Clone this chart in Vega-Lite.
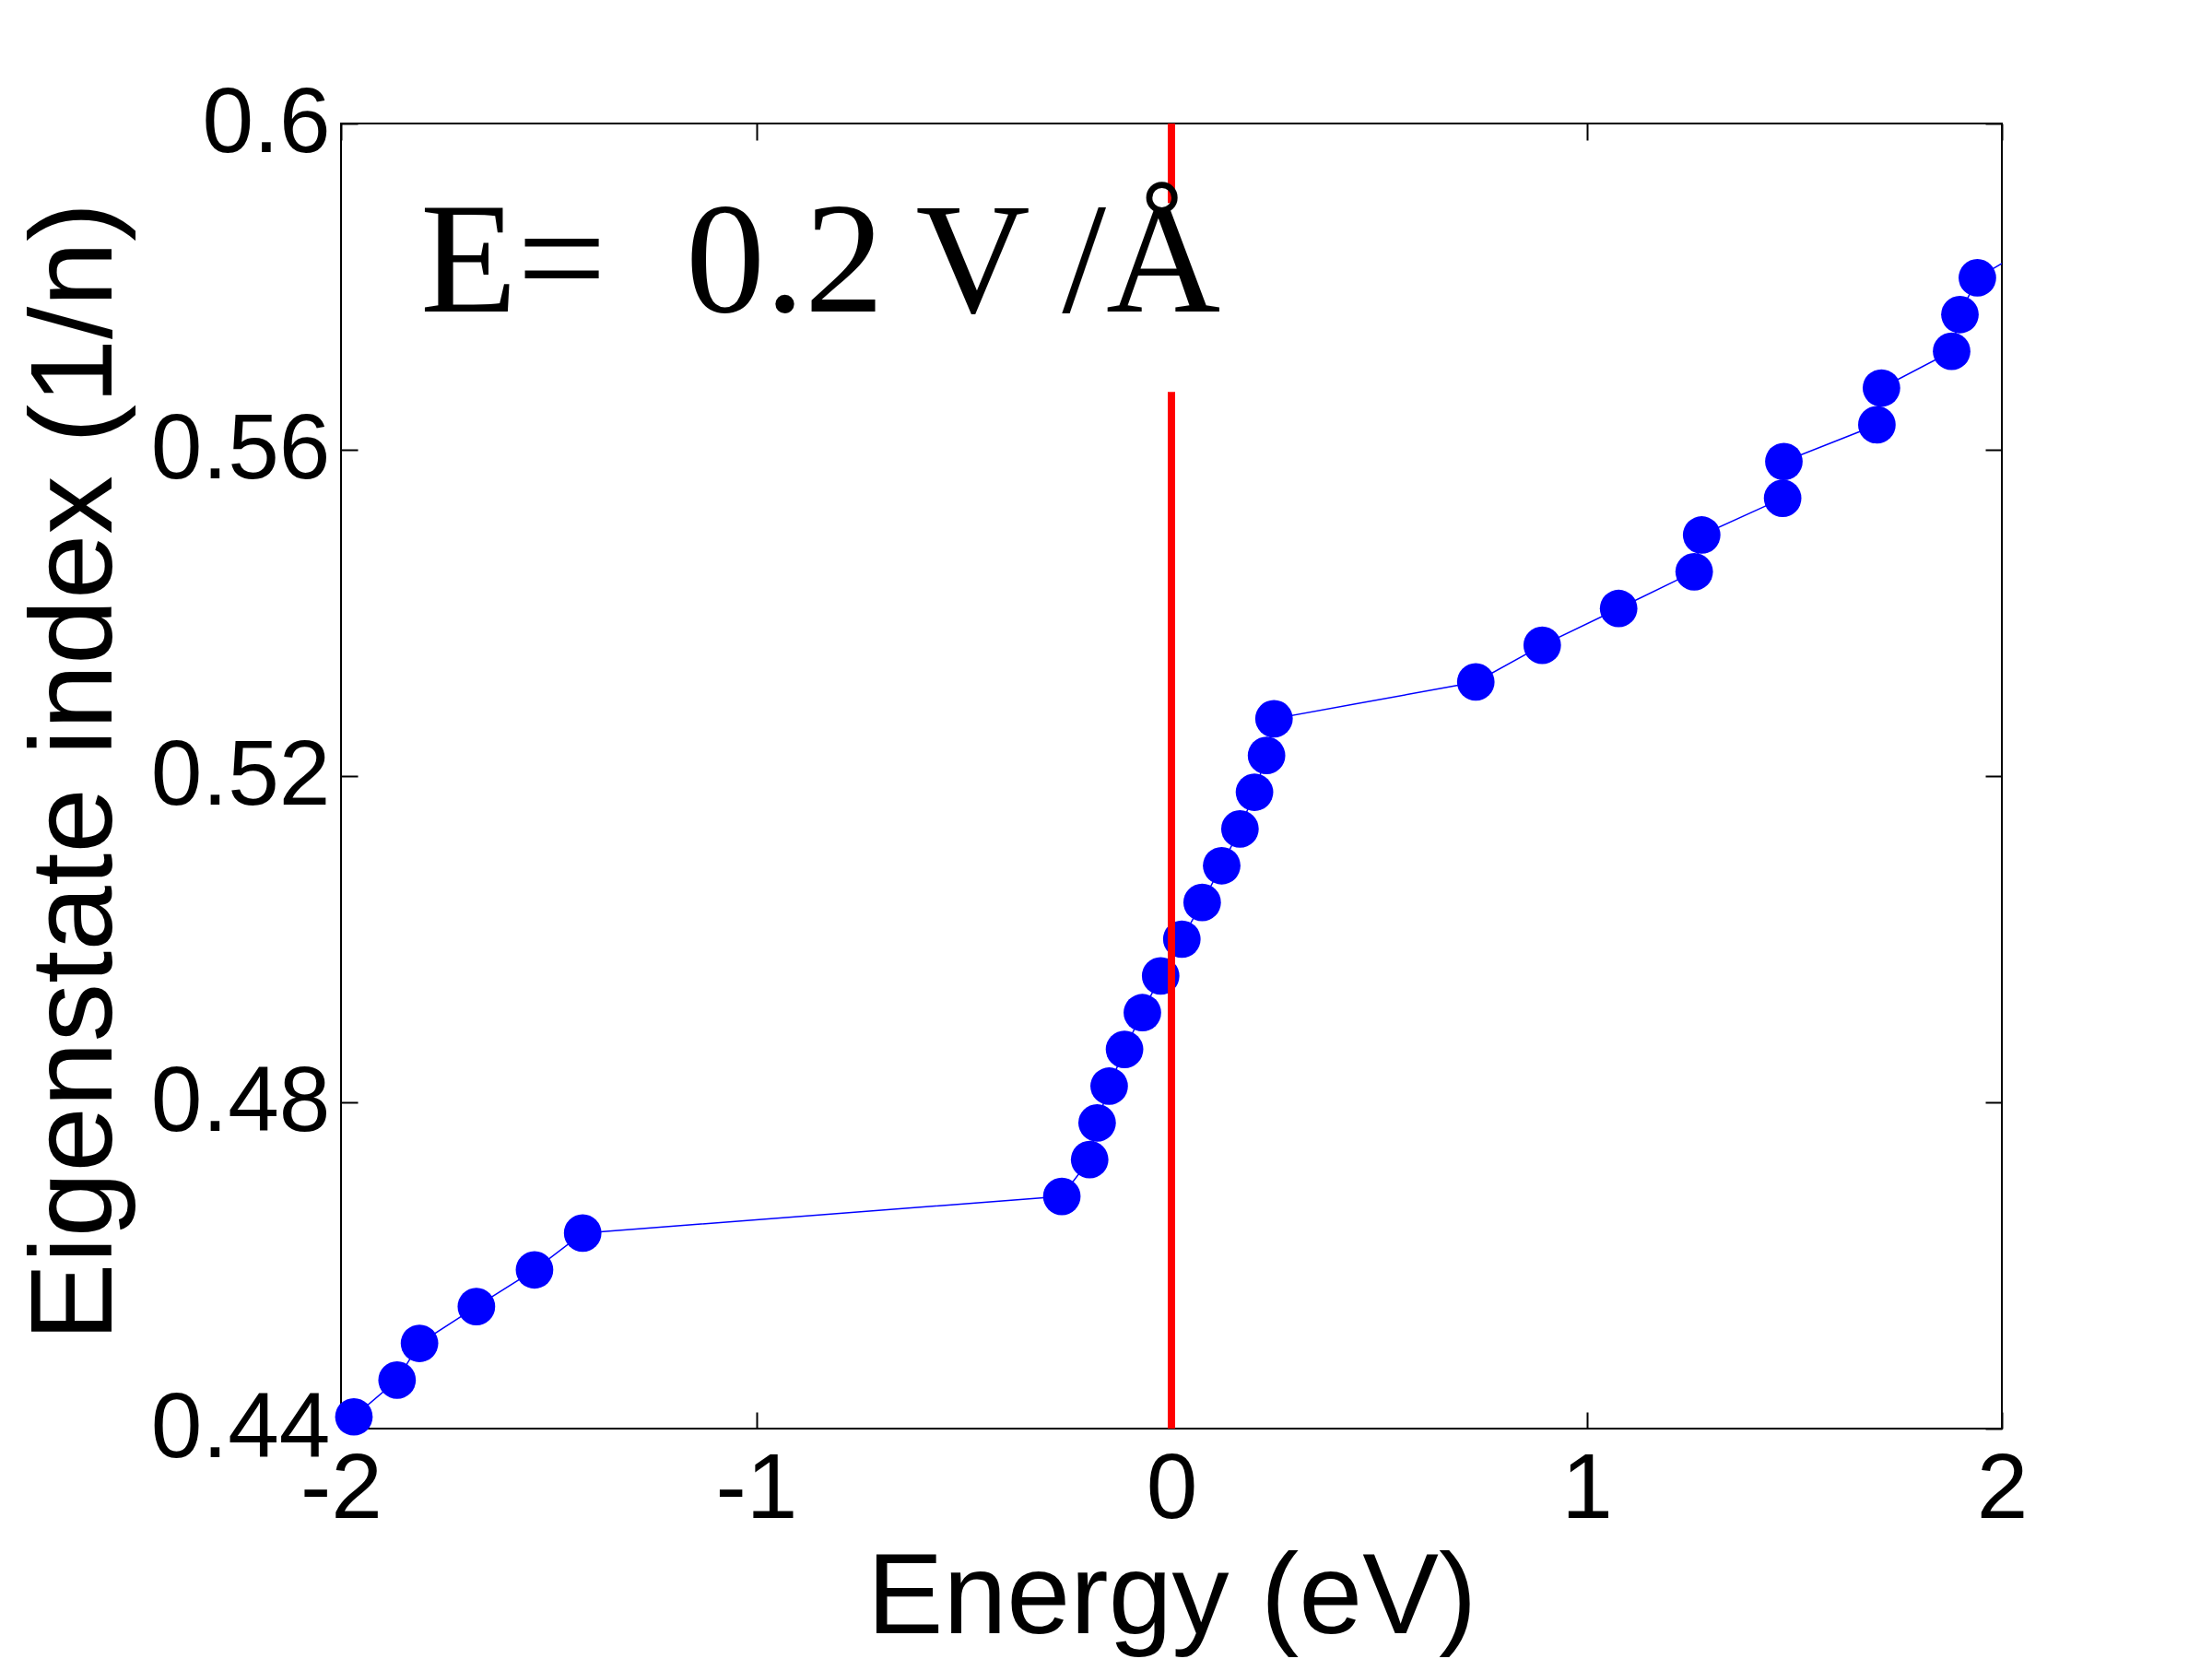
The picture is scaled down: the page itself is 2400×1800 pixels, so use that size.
{
  "$schema": "https://vega.github.io/schema/vega-lite/v6.json",
  "width": 1802,
  "height": 1416,
  "autosize": {"type": "none"},
  "padding": {"left": 370, "top": 134, "right": 228, "bottom": 250},
  "background": "white",
  "config": {
    "view": {"stroke": "black", "strokeWidth": 2},
    "axis": {
      "domain": false,
      "grid": false,
      "tickColor": "black",
      "tickWidth": 2,
      "tickSize": -18,
      "labelFont": "Liberation Sans",
      "labelFontSize": 100,
      "labelColor": "black",
      "labelLimit": 0,
      "titleFont": "Liberation Sans",
      "titleFontSize": 124,
      "titleFontWeight": "normal",
      "titleColor": "black"
    }
  },
  "datasets": {
    "states": [
      {"E": -2.05, "idx": 0.436937},
      {"E": -1.969, "idx": 0.441441},
      {"E": -1.865, "idx": 0.445946},
      {"E": -1.811, "idx": 0.450450},
      {"E": -1.674, "idx": 0.454955},
      {"E": -1.534, "idx": 0.459459},
      {"E": -1.418, "idx": 0.463964},
      {"E": -0.264, "idx": 0.468468},
      {"E": -0.197, "idx": 0.472973},
      {"E": -0.179, "idx": 0.477477},
      {"E": -0.150, "idx": 0.481982},
      {"E": -0.113, "idx": 0.486486},
      {"E": -0.070, "idx": 0.490991},
      {"E": -0.026, "idx": 0.495495},
      {"E": 0.025, "idx": 0.500000},
      {"E": 0.074, "idx": 0.504505},
      {"E": 0.121, "idx": 0.509009},
      {"E": 0.165, "idx": 0.513514},
      {"E": 0.200, "idx": 0.518018},
      {"E": 0.229, "idx": 0.522523},
      {"E": 0.247, "idx": 0.527027},
      {"E": 0.733, "idx": 0.531532},
      {"E": 0.893, "idx": 0.536036},
      {"E": 1.077, "idx": 0.540541},
      {"E": 1.259, "idx": 0.545045},
      {"E": 1.277, "idx": 0.549550},
      {"E": 1.472, "idx": 0.554054},
      {"E": 1.475, "idx": 0.558559},
      {"E": 1.699, "idx": 0.563063},
      {"E": 1.710, "idx": 0.567568},
      {"E": 1.879, "idx": 0.572072},
      {"E": 1.899, "idx": 0.576577},
      {"E": 1.941, "idx": 0.581081},
      {"E": 2.092, "idx": 0.585586}
    ],
    "fermi": [
      {"E": 0, "y1": 0.6, "y2": 0.59024},
      {"E": 0, "y1": 0.56708, "y2": 0.44}
    ],
    "label": [
      {"E": -1.809, "idx": 0.5769, "text": "E=\u00a0\u00a00.2\u2009V\u2009/Å"}
    ]
  },
  "layer": [
    {
      "data": {"name": "states"},
      "mark": {"type": "line", "color": "#0000FF", "strokeWidth": 1.5, "clip": true},
      "encoding": {
        "x": {
          "field": "E", "type": "quantitative",
          "scale": {"domain": [-2, 2], "nice": false, "zero": false},
          "axis": {"orient": "bottom", "values": [-2, -1, 0, 1, 2], "labelExpr": "'' + datum.value", "labelPadding": 35, "labelFlush": false, "labelOverlap": false, "title": "Energy (eV)", "titleBaseline": "alphabetic", "titleY": 221, "titleX": 901, "titleAnchor": "middle"}
        },
        "y": {
          "field": "idx", "type": "quantitative",
          "scale": {"domain": [0.44, 0.6], "nice": false, "zero": false},
          "axis": {"orient": "left", "values": [0.44, 0.48, 0.52, 0.56, 0.6], "format": ".2~f", "labelPadding": 30, "labelFlush": false, "labelOverlap": false, "title": "Eigenstate index (1/n)", "titleFontSize": 127, "titleAngle": -90, "titleBaseline": "alphabetic", "titleX": -250, "titleY": 703, "titleAlign": "center", "titleAnchor": "middle"}
        }
      }
    },
    {
      "data": {"name": "states"},
      "transform": [{"filter": "datum.E >= -2 && datum.E <= 2"}],
      "mark": {"type": "point", "shape": "circle", "filled": true, "color": "#0000FF", "size": 1660, "opacity": 1},
      "encoding": {
        "x": {"field": "E", "type": "quantitative", "axis": {"orient": "top", "values": [-2, -1, 0, 1, 2], "labels": false, "title": null}},
        "y": {"field": "idx", "type": "quantitative", "axis": {"orient": "right", "values": [0.44, 0.48, 0.52, 0.56, 0.6], "labels": false, "title": null}}
      }
    },
    {
      "data": {"name": "fermi"},
      "mark": {"type": "rule", "color": "#FF0000", "strokeWidth": 8},
      "encoding": {
        "x": {"field": "E", "type": "quantitative", "axis": null},
        "y": {"field": "y1", "type": "quantitative", "axis": null},
        "y2": {"field": "y2"}
      }
    },
    {
      "data": {"name": "label"},
      "mark": {"type": "text", "font": "Liberation Serif", "fontSize": 172, "align": "left", "baseline": "alphabetic", "color": "black"},
      "encoding": {
        "x": {"field": "E", "type": "quantitative", "axis": null},
        "y": {"field": "idx", "type": "quantitative", "axis": null},
        "text": {"field": "text"}
      }
    }
  ],
  "resolve": {"axis": {"x": "independent", "y": "independent"}}
}
